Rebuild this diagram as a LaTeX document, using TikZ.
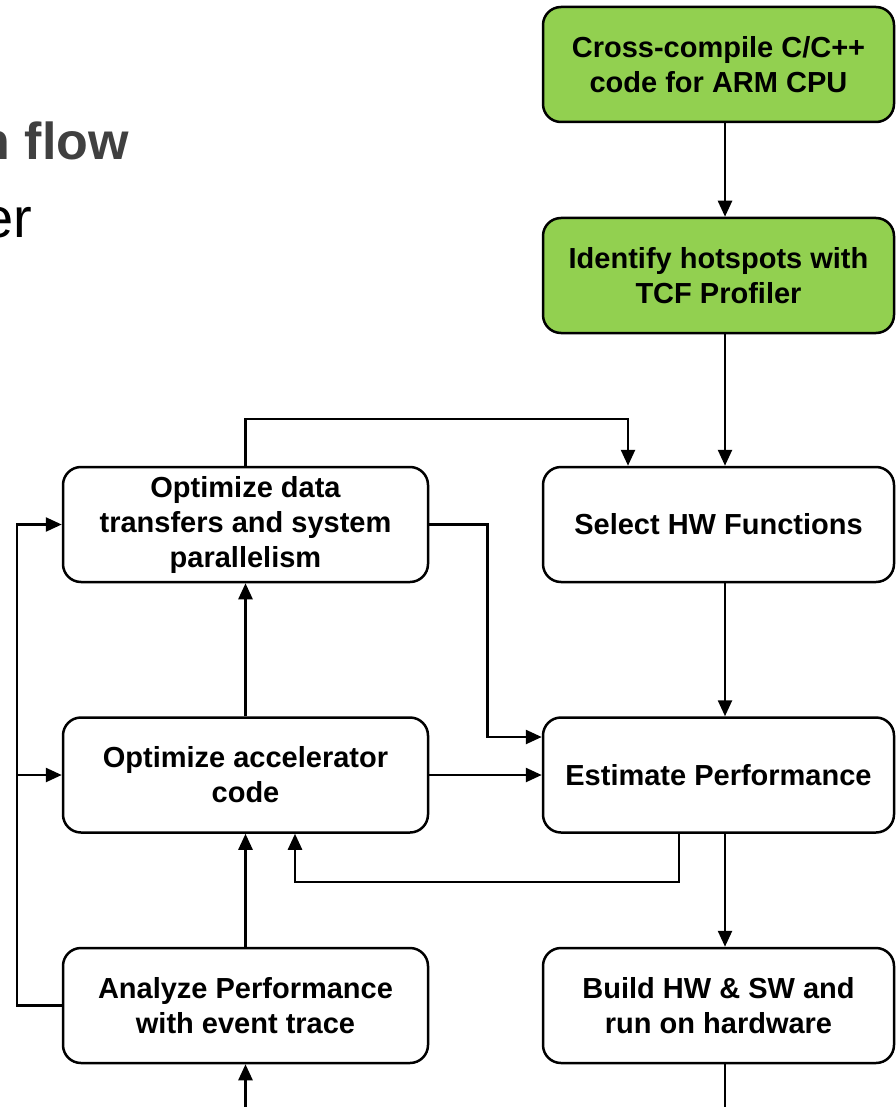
\documentclass[tikz,border=0pt]{standalone}
\usepackage{fontspec}
\setmainfont{Liberation Sans}
\usetikzlibrary{positioning,calc,arrows.meta}
\definecolor{vert}{HTML}{92D050}
\definecolor{titre}{HTML}{404040}

\begin{document}
\begin{tikzpicture}[x=1pt, y=-1pt,
  bloc/.style={rectangle, rounded corners=18pt, draw=black, line width=2.5pt,
    minimum height=115pt, inner sep=0pt, align=center,
    font=\fontsize{29}{35}\selectfont\bfseries},
  droite/.style={bloc, minimum width=351pt},
  gauche/.style={bloc, minimum width=365pt},
  lien/.style={line width=2.5pt, -{Triangle[length=16pt,width=14pt]}}]
\useasboundingbox (0,0) rectangle (895,1107);

  % titre coupe
\node[anchor=base east, inner sep=0pt, text=titre,
  font=\fontsize{52}{60}\selectfont\bfseries] (flow) at (129,160) {n flow};
\node[anchor=base east, inner sep=0pt,
  font=\fontsize{56}{64}\selectfont] (er) at (32,237) {er};

  % colonne droite
\node[droite, fill=vert] (cross) at (718.5,64.5) {Cross-compile C/C++\\code for ARM CPU};
\node[droite, fill=vert] (hot) at (718.5,275.5) {Identify hotspots with\\TCF Profiler};
\node[droite] (sel) at (718.5,524.5) {Select HW Functions};
\node[droite] (est) at (718.5,775) {Estimate Performance};
\node[droite] (build) at (718.5,1005.5) {Build HW \& SW and\\run on hardware};

  % colonne gauche
\node[gauche] (data) at (245.5,524.5) {Optimize data\\transfers and system\\parallelism};
\node[gauche] (accel) at (245.5,775) {Optimize accelerator\\code};
\node[gauche] (ana) at (245.5,1005.5) {Analyze Performance\\with event trace};

\coordinate (bord) at (17,0);
\coordinate (bas) at (245.5,1107);

  % liens
\draw[lien] ([xshift=6.5]cross.south) -- ([xshift=6.5]hot.north);
\draw[lien] ([xshift=6.5]hot.south) -- ([xshift=6.5]sel.north);
\draw[lien] ([xshift=6.5]sel.south) -- ([xshift=6.5]est.north);
\draw[lien] ([xshift=6.5]est.south) -- ([xshift=6.5]build.north);
\draw[line width=2.5pt] ([xshift=6.5]build.south) -- ++(0,44);

\draw[lien] (data.north) -- ++(0,-47) -| ([xshift=-90.5]sel.north);
\draw[lien] (data.east) -- ++(58,0) |- ([yshift=38pt]est.west);
\draw[lien] (accel.east) -- (est.west);
\draw[lien] (accel.north) -- (data.south);
\draw[lien] (ana.north) -- (accel.south);
\draw[lien] ([xshift=-39.5]est.south) -- ++(0,48) -| ([xshift=49.5]accel.south);
\draw[lien] (bas) -- (ana.south);

  % retour
\draw[lien] (ana.west) -- (bord |- ana.west) -- (bord |- data.west) -- (data.west);
\draw[lien] (bord |- accel.west) -- (accel.west);

\end{tikzpicture}
\end{document}
